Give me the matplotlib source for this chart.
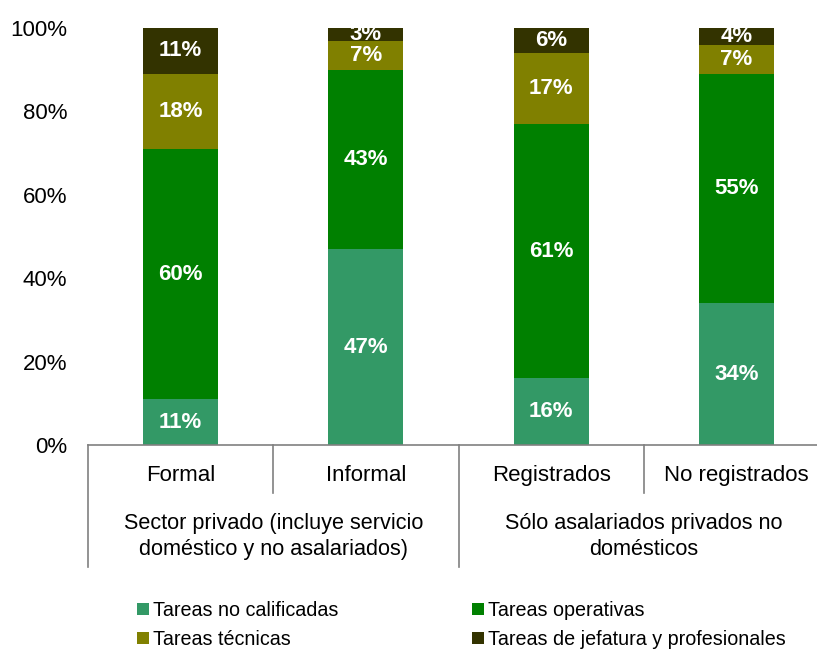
import matplotlib
matplotlib.use("Agg")
import matplotlib.pyplot as plt
from matplotlib.patches import Patch
from matplotlib.ticker import FuncFormatter
import numpy as np

plt.rcParams["font.family"] = "Liberation Sans"

categories = ["Formal", "Informal", "Registrados", "No registrados"]
groups = ["Sector privado (incluye servicio\ndoméstico y no asalariados)",
          "Sólo asalariados privados no\ndomésticos"]
series_names = ["Tareas no calificadas", "Tareas operativas",
                "Tareas técnicas", "Tareas de jefatura y profesionales"]
no_calificadas = [11, 47, 16, 34]
operativas = [60, 43, 61, 55]
tecnicas = [18, 7, 17, 7]
jefatura = [11, 3, 6, 4]

colors = ["#339966", "#008000", "#808000", "#333300"]
series = [no_calificadas, operativas, tecnicas, jefatura]

fig = plt.figure(figsize=(8.17, 6.5), dpi=100)
ax = fig.add_axes([88 / 817, 1 - 445 / 650, 1 - 88 / 817, 417 / 650])

x = np.arange(len(categories))
bottom = np.zeros(len(categories))
for vals, col in zip(series, colors):
    vals = np.array(vals, dtype=float)
    ax.bar(x, vals, 0.405, bottom=bottom, color=col, linewidth=0)
    for xi, b, v in zip(x, bottom, vals):
        ax.text(xi, b + v / 2, f"{v:.0f}%", ha="center", va="center",
                color="white", fontsize=16, fontweight="bold")
    bottom += vals

ax.set_ylim(0, 100)
ax.set_xlim(-0.5, 3.434)
ax.set_yticks(range(0, 101, 20))
ax.yaxis.set_major_formatter(FuncFormatter(lambda v, p: f"{v:.0f}%"))
ax.tick_params(axis="y", length=0, pad=15, labelsize=16)
ax.set_xticks([])
for s in ["top", "right", "left"]:
    ax.spines[s].set_visible(False)
ax.spines["bottom"].set_color("#808080")
ax.spines["bottom"].set_linewidth(1.2)

# two-level category axis drawn below the bars
tr = ax.get_xaxis_transform()
for xb, depth in [(-0.5, -0.293), (0.5, -0.115), (1.5, -0.293), (2.5, -0.115)]:
    ax.plot([xb, xb], [0, depth], transform=tr, color="#808080", lw=1.2,
            clip_on=False)
for xi, name in zip(x, categories):
    ax.text(xi, -0.074, name, transform=tr, ha="center", va="center",
            fontsize=16)
for xg, name in zip([0.5, 2.5], groups):
    ax.text(xg, -0.22, name, transform=tr, ha="center", va="center",
            fontsize=15.6, linespacing=1.3)

handles = [Patch(facecolor=c, edgecolor="none") for c in colors]
order = [0, 2, 1, 3]
fig.legend([handles[i] for i in order], [series_names[i] for i in order],
           loc="upper left", bbox_to_anchor=(127 / 817, 1 - 591 / 650),
           ncol=2, frameon=False, fontsize=14.2, handlelength=0.6,
           handleheight=0.6, handletextpad=0.2, columnspacing=6.8,
           labelspacing=0.5, borderpad=0)

fig.savefig("out.png", dpi=100)
